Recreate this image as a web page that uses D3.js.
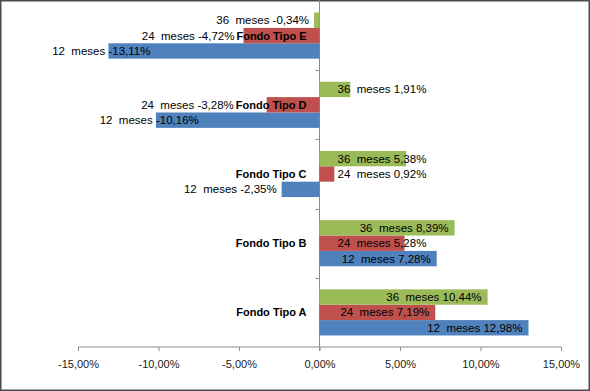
<!DOCTYPE html>
<html>
<head>
<meta charset="utf-8">
<script src="https://cdn.jsdelivr.net/npm/d3@7"></script>
<style>
  body { margin: 0; background: #fff; }
  svg text { font-family: "Liberation Sans", Arial, sans-serif; white-space: pre; }
</style>
</head>
<body>
<div id="canvas"></div>
<script>
// valores (rentabilidad %)
const categories = ["Fondo Tipo A", "Fondo Tipo B", "Fondo Tipo C", "Fondo Tipo D", "Fondo Tipo E"];
const seriesNames = ["12  meses", "24  meses", "36  meses"];
const meses12 = [12.98, 7.28, -2.35, -10.16, -13.11];
const meses24 = [7.19, 5.28, 0.92, -3.28, -4.72];
const meses36 = [10.44, 8.39, 5.38, 1.91, -0.34];
const xTicks = [-15, -10, -5, 0, 5, 10, 15];
const colors = ["#4F81BD", "#C0504D", "#9BBB59"];

const width = 590, height = 391;
const seriesValues = [meses12, meses24, meses36];

const locale = d3.formatLocale({ decimal: ",", thousands: ".", grouping: [3], currency: ["", "€"], minus: "-" });
const fmt = v => locale.format(".2f")(v) + "%";

const svg = d3.select("#canvas").append("svg")
    .attr("width", width)
    .attr("height", height);

svg.append("rect")
    .attr("x", 0.75).attr("y", 0.75)
    .attr("width", width - 1.5).attr("height", height - 1.5)
    .attr("fill", "#fff")
    .attr("stroke", "#4a4a4a")
    .attr("stroke-width", 1.5);

const x = d3.scaleLinear().domain([-15, 15]).range([78, 561]);
const y = d3.scaleBand().domain(categories.slice().reverse()).range([1, 347]);
const bw = y.bandwidth();
const yInner = d3.scaleBand().domain([2, 1, 0]).range([bw / 6, bw * 5 / 6]);

// eje x
const xAxis = svg.append("g")
    .attr("transform", "translate(0,347)")
    .call(d3.axisBottom(x).tickValues(xTicks).tickSize(4).tickFormat(d => locale.format(".2f")(d) + "%"));
xAxis.select(".domain").attr("stroke", "#8c8c8c").attr("d", `M${x(-15)},0H${x(15)}`);
xAxis.selectAll(".tick line").attr("stroke", "#8c8c8c");
xAxis.selectAll(".tick text")
    .attr("y", 13)
    .attr("fill", "#1a1a1a")
    .style("font-size", "11px")
    .style("font-family", "\"Liberation Sans\", Arial, sans-serif");

// eje de categorias en el cero
const yAxis = svg.append("g")
    .attr("transform", `translate(${x(0)},0)`);
yAxis.append("line")
    .attr("y1", 0).attr("y2", 351)
    .attr("stroke", "#8c8c8c");
yAxis.selectAll("line.tk")
    .data(categories.slice(1))
    .enter().append("line")
    .attr("class", "tk")
    .attr("x1", -4).attr("x2", 0)
    .attr("y1", d => Math.round(y(d) + bw) + 0.5)
    .attr("y2", d => Math.round(y(d) + bw) + 0.5)
    .attr("stroke", "#8c8c8c");

// barras
const rows = [];
categories.forEach((c, i) => {
    seriesValues.forEach((vals, s) => {
        rows.push({ cat: c, s: s, v: vals[i] });
    });
});

const g = svg.append("g");
g.selectAll("rect")
    .data(rows)
    .enter().append("rect")
    .attr("x", d => x(Math.min(0, d.v)))
    .attr("width", d => Math.abs(x(d.v) - x(0)))
    .attr("y", d => y(d.cat) + yInner(d.s))
    .attr("height", yInner.bandwidth())
    .attr("fill", d => colors[d.s]);

// nombres de categoria
const catStart = {};
svg.append("g").selectAll("text")
    .data(categories)
    .enter().append("text")
    .attr("x", x(0) - 13)
    .attr("y", d => y(d) + bw / 2 + 4)
    .attr("text-anchor", "end")
    .style("font-size", "11px")
    .style("font-weight", "bold")
    .attr("fill", "#000")
    .text(d => d)
    .each(function(d) { catStart[d] = x(0) - 13 - this.getComputedTextLength(); });

// etiquetas de datos
const labels = svg.append("g").selectAll("text")
    .data(rows)
    .enter().append("text")
    .attr("y", d => y(d.cat) + yInner(d.s) + yInner.bandwidth() / 2 + 4)
    .style("font-size", "11.5px")
    .attr("fill", "#000")
    .text(d => seriesNames[d.s] + " " + fmt(d.v));

labels.each(function(d) {
    const t = d3.select(this);
    const w = this.getComputedTextLength();
    const barLen = Math.abs(x(d.v) - x(0));
    const end = x(d.v);
    if (d.v >= 0) {
        if (barLen > w + 8) {
            t.attr("text-anchor", "end").attr("x", end - 6);
        } else {
            t.attr("text-anchor", "start").attr("x", x(0) + 18);
        }
    } else {
        if (barLen > w) {
            // el valor empieza en el extremo de la barra
            const tmp = svg.append("text").style("font-size", "11.5px").text(fmt(d.v));
            const vw = tmp.node().getComputedTextLength();
            tmp.remove();
            t.attr("text-anchor", "end").attr("x", end + vw);
        } else {
            let xe = end - 5;
            // la fila central comparte altura con el nombre de categoria
            if (d.s === 1) xe = Math.min(xe, catStart[d.cat] - 2);
            t.attr("text-anchor", "end").attr("x", xe);
        }
    }
});
</script>
</body>
</html>
